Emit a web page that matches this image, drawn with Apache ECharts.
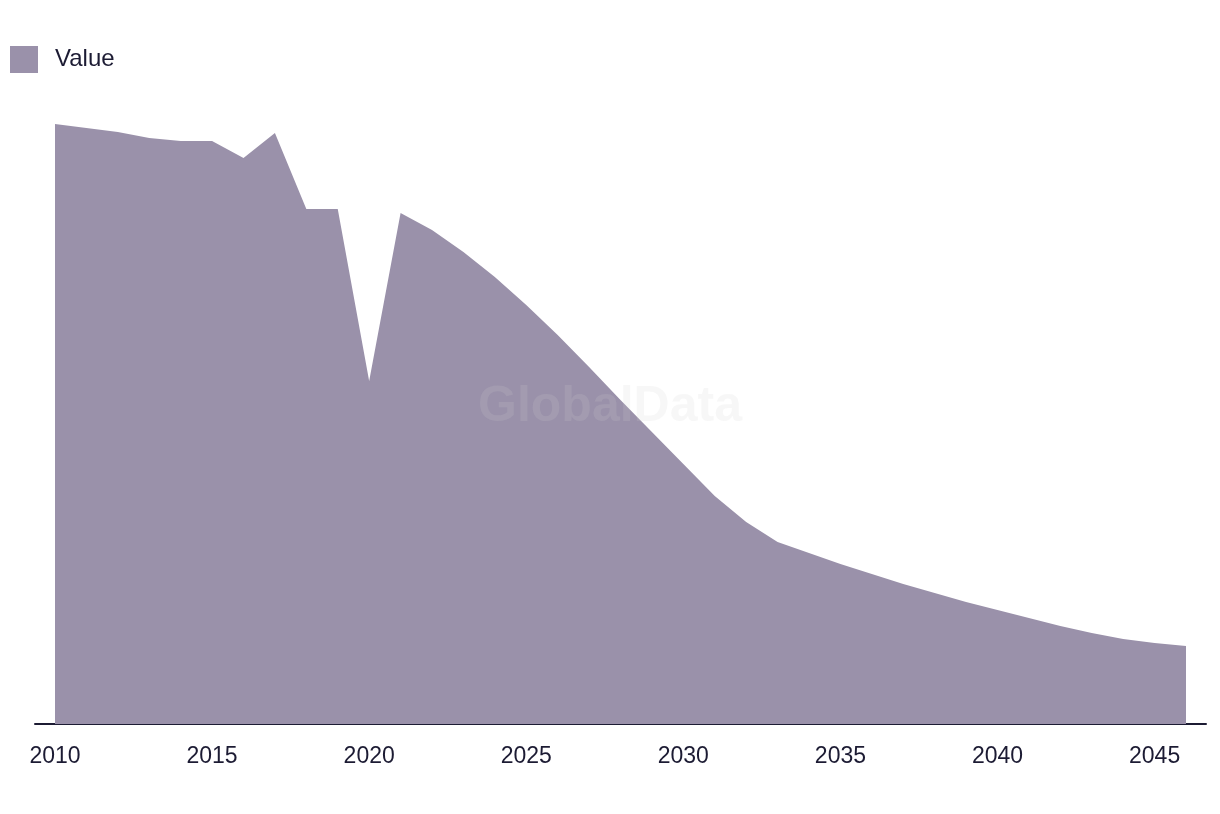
<!DOCTYPE html>
<html>
<head>
<meta charset="utf-8">
<script src="https://cdn.jsdelivr.net/npm/echarts@6/dist/echarts.min.js"></script>
<style>html,body{margin:0;padding:0;background:#fff;}#c{width:1220px;height:814px;}</style>
</head>
<body>
<div id="c"></div>
<script>
const years = [2010,2011,2012,2013,2014,2015,2016,2017,2018,2019,2020,2021,2022,2023,2024,2025,2026,2027,2028,2029,2030,2031,2032,2033,2034,2035,2036,2037,2038,2039,2040,2041,2042,2043,2044,2045,2046];
const values = [600,596,592,586,583,583,566,591,515,515,343,511,494,472,447,419,389,357,324,292,260,228,202,182,171,160,150,140,131,122,114,106,98,91,85,81,78];
const tickLabels = [2010,2015,2020,2025,2030,2035,2040,2045];
const seriesName = 'Value';

const textColor = '#1c1b33';
const chart = echarts.init(document.getElementById('c'));
chart.setOption({
  animation: false,
  backgroundColor: '#ffffff',
  legend: {
    data: [seriesName],
    left: 5, top: 41,
    icon: 'rect',
    itemWidth: 28, itemHeight: 27,
    textStyle: { color: textColor, fontSize: 24, fontFamily: 'Liberation Sans', padding: [0,0,0,12] }
  },
  grid: { left: 35, right: 14, top: 124, bottom: 90, containLabel: false },
  xAxis: {
    type: 'value',
    min: 2009.3634, max: 2046.6366,
    axisLine: { show: true, lineStyle: { color: textColor, width: 2 } },
    axisTick: { show: false },
    splitLine: { show: false },
    axisLabel: {
      customValues: tickLabels,
      color: textColor, fontSize: 23, fontFamily: 'Liberation Sans', margin: 21,
      formatter: v => String(v)
    }
  },
  yAxis: {
    type: 'value', min: 0, max: 600,
    show: false
  },
  graphic: [{
    type: 'text', left: 'center', top: 382, z: 100,
    style: { text: 'GlobalData', fontSize: 50, fontWeight: 'bold', fontFamily: 'Liberation Sans', fill: 'rgba(207,207,210,0.17)' }
  }],
  series: [{
    name: seriesName,
    type: 'line',
    data: years.map((y, i) => [y, values[i]]),
    symbol: 'none',
    lineStyle: { width: 0 },
    itemStyle: { color: '#9a91aa' },
    areaStyle: { color: '#9a91aa', opacity: 1 }
  }]
});
</script>
</body>
</html>
